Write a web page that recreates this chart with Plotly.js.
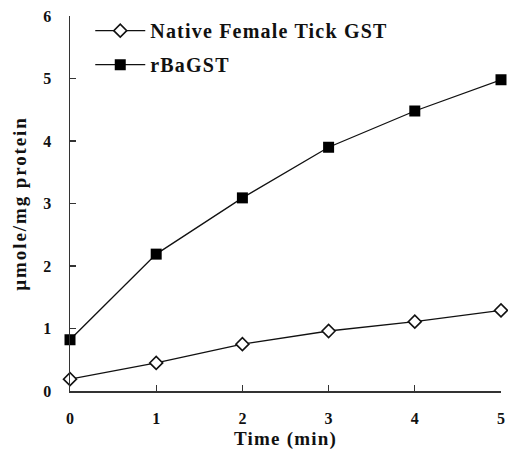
<!DOCTYPE html>
<html><head><meta charset="utf-8">
<script src="https://cdn.plot.ly/plotly-3.0.1.min.js"></script>
<style>
body{margin:0;background:#fff}#c{width:508px;height:450px}
.legendtext{letter-spacing:1.2px}
.xtitle{letter-spacing:1.2px}
.ytitle{letter-spacing:1.9px}
</style>
</head><body><div id="c"></div>
<script>
const timeMin = [0, 1, 2, 3, 4, 5];
const nativeGST = [0.19, 0.45, 0.75, 0.96, 1.11, 1.29];
const rBaGST = [0.82, 2.19, 3.09, 3.90, 4.48, 4.98];
const seriesNames = ['Native Female Tick GST', 'rBaGST'];
const yTicks = [0, 1, 2, 3, 4, 5, 6];
const xTicks = [0, 1, 2, 3, 4, 5];

const font = {family: '"Liberation Serif", "Times New Roman", serif', color: '#111'};
const traces = [
  {x: timeMin, y: nativeGST, name: seriesNames[0], legendgroup: 'a', type: 'scatter', mode: 'lines+markers',
   line: {color: '#111', width: 1.3},
   marker: {symbol: 'diamond', size: 10, color: '#fff', line: {color: '#111', width: 1.6}},
   cliponaxis: false},
  {x: timeMin, y: rBaGST, name: seriesNames[1], legendgroup: 'b', type: 'scatter', mode: 'lines+markers',
   line: {color: '#111', width: 1.3},
   marker: {symbol: 'square', size: 11, color: '#000', line: {color: '#000', width: 0}},
   cliponaxis: false}
];
const layout = {
  width: 508, height: 450,
  margin: {l: 70, r: 7, t: 16, b: 59},
  paper_bgcolor: '#fff', plot_bgcolor: '#fff',
  font: Object.assign({}, font, {size: 16}),
  showlegend: true,
  legend: {x: 0.047, y: 1.013, xanchor: 'left', yanchor: 'top', bgcolor: 'rgba(0,0,0,0)',
           font: Object.assign({}, font, {size: 20, weight: 'bold'}), tracegroupgap: 5,
           traceorder: 'grouped', itemwidth: 50},
  xaxis: {range: [0, 5], tickvals: xTicks, ticktext: xTicks.map(String),
          showgrid: false, zeroline: false, showline: true, linecolor: '#333', linewidth: 1.5,
          ticks: 'inside', ticklen: 6, tickwidth: 1.3, tickcolor: '#333', ticklabelstandoff: 12,
          tickfont: Object.assign({}, font, {size: 16, weight: 'bold'}),
          title: {text: 'Time (min)', standoff: 10, font: Object.assign({}, font, {size: 19, weight: 'bold'})}},
  yaxis: {range: [0, 6], tickvals: yTicks, ticktext: yTicks.map(String),
          showgrid: false, zeroline: false, showline: true, linecolor: '#333', linewidth: 1.5,
          ticks: 'inside', ticklen: 6, tickwidth: 1.3, tickcolor: '#333', ticklabelstandoff: 14,
          tickfont: Object.assign({}, font, {size: 16, weight: 'bold'}),
          title: {text: 'µmole/mg protein', standoff: 11, font: Object.assign({}, font, {size: 19, weight: 'bold'})}}
};
Plotly.newPlot('c', traces, layout, {displayModeBar: false, staticPlot: true});
</script></body></html>
